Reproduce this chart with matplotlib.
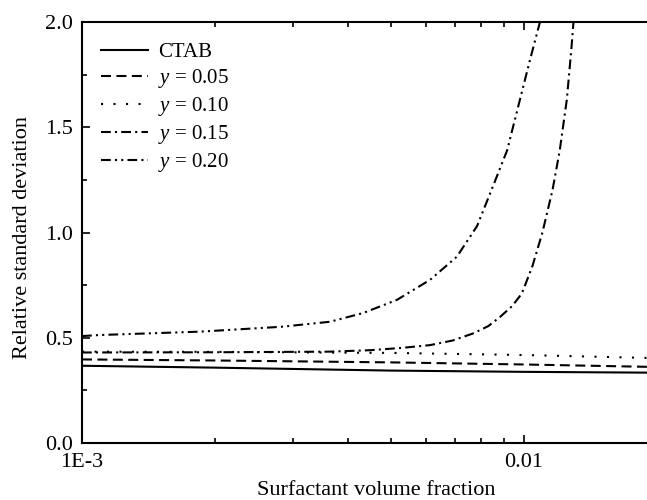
import matplotlib
matplotlib.use("Agg")
import matplotlib.pyplot as plt
from matplotlib.ticker import FixedLocator, NullFormatter, LogLocator

plt.rcParams['font.family'] = ['Liberation Serif', 'DejaVu Serif']
plt.rcParams['mathtext.fontset'] = 'custom'
plt.rcParams['mathtext.it'] = 'Liberation Serif:italic'
plt.rcParams['mathtext.rm'] = 'Liberation Serif'

# ---- data ----
x_ctab = [1e-3, 2e-3, 5e-3, 1e-2, 2e-2]
y_ctab = [0.367, 0.358, 0.344, 0.338, 0.334]

x_005 = [1e-3, 2e-3, 5e-3, 1e-2, 2e-2]
y_005 = [0.397, 0.392, 0.383, 0.373, 0.361]

x_010 = [1e-3, 2e-3, 5e-3, 1e-2, 2e-2]
y_010 = [0.434, 0.433, 0.428, 0.418, 0.403]

x_015 = [1e-3, 2e-3, 3.64e-3, 4.5e-3, 5.3e-3, 6.13e-3, 6.9e-3, 7.66e-3, 8.3e-3,
         8.84e-3, 9.4e-3, 9.89e-3, 1.045e-2, 1.101e-2, 1.16e-2, 1.205e-2,
         1.25e-2, 1.28e-2, 1.30e-2]
y_015 = [0.43, 0.431, 0.434, 0.441, 0.452, 0.465, 0.487, 0.52, 0.555,
         0.60, 0.65, 0.71, 0.84, 1.0, 1.2, 1.39,
         1.63, 1.87, 2.05]

x_020 = [1e-3, 1.098e-3, 1.849e-3, 2.82e-3, 3.64e-3, 4.32e-3, 5.16e-3, 6.13e-3,
         7.05e-3, 7.83e-3, 8.51e-3, 9.16e-3, 9.79e-3, 1.032e-2, 1.087e-2, 1.11e-2]
y_020 = [0.508, 0.513, 0.529, 0.552, 0.576, 0.617, 0.68, 0.775,
         0.885, 1.03, 1.22, 1.39, 1.63, 1.82, 2.0, 2.08]

labels = ['CTAB', '$y$ = 0.05', '$y$ = 0.10', '$y$ = 0.15', '$y$ = 0.20']
x_ticks = [1e-3, 1e-2]
x_ticklabels = ['1E-3', '0.01']
y_ticks = [0.0, 0.5, 1.0, 1.5, 2.0]
y_ticklabels = ['0.0', '0.5', '1.0', '1.5', '2.0']

fig = plt.figure(figsize=(6.47, 5.00), dpi=100)
ax = fig.add_axes([82/647, 57/500, 575/647, 421/500])

lw = 1.5
styles = ['-', (0, (4.8, 2.6)), (0, (1.0, 5.0)), (0, (4.7, 2.0, 1.0, 2.0)),
          (0, (4.7, 2.0, 1.0, 2.0, 1.0, 2.0))]
series = [(x_ctab, y_ctab), (x_005, y_005), (x_010, y_010), (x_015, y_015), (x_020, y_020)]
for (xs, ys), ls, lab in zip(series, styles, labels):
    ax.plot(xs, ys, color='black', lw=lw, linestyle=ls, label=lab)

ax.set_xscale('log')
ax.set_xlim(1e-3, 2e-2)
ax.set_ylim(0, 2.0)

ax.xaxis.set_major_locator(FixedLocator(x_ticks))
ax.set_xticklabels(x_ticklabels)
ax.xaxis.set_minor_locator(LogLocator(base=10, subs=range(2, 10)))
ax.xaxis.set_minor_formatter(NullFormatter())
ax.set_yticks(y_ticks)
ax.set_yticklabels(y_ticklabels)
ax.yaxis.set_minor_locator(FixedLocator([0.25, 0.75, 1.25, 1.75]))

ax.tick_params(which='both', direction='in', top=True, right=True, labelsize=16,
               width=1.2, colors='black')
ax.tick_params(which='major', length=6)
ax.tick_params(which='minor', length=3.5)
ax.tick_params(axis='y', which='major', pad=6.5)
ax.tick_params(axis='x', which='major', pad=7.5)
for s in ax.spines.values():
    s.set_linewidth(1.5)

ax.set_xlabel('Surfactant volume fraction', fontsize=16)
ax.set_ylabel('Relative standard deviation', fontsize=16)
ax.xaxis.set_label_coords(0.512, -0.09)
ax.yaxis.set_label_coords(-0.087, 0.487)

ax.legend(loc='upper left', bbox_to_anchor=(0.019, 0.971), frameon=False,
          fontsize=15, handlelength=2.26, handletextpad=0.48, labelspacing=0.24,
          borderaxespad=0)

fig.savefig('out.png', dpi=100)
